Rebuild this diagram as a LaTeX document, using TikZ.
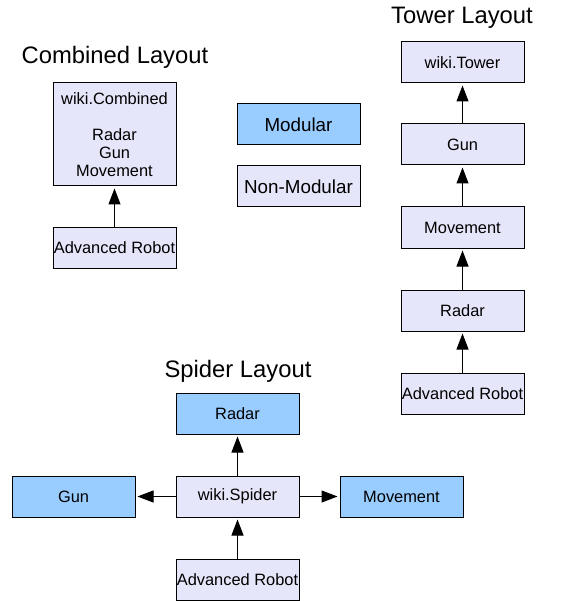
\documentclass[tikz,border=0pt]{standalone}
\usepackage{fontspec}
\setmainfont{Liberation Sans}
\usetikzlibrary{arrows.meta}
\definecolor{modblue}{HTML}{99CCFF}
\definecolor{nonmod}{HTML}{E6E6FA}
\begin{document}
\begin{tikzpicture}[x=1pt,y=-1pt,
  box/.style={draw=black, line width=1pt, minimum width=123pt, minimum height=41pt, inner sep=0pt,
    font=\fontsize{16.4}{18}\selectfont, align=center},
  modbox/.style={box, fill=modblue},
  nonbox/.style={box, fill=nonmod},
  legfont/.style={font=\fontsize{18.8}{21}\selectfont},
  title/.style={font=\fontsize{23.8}{26}\selectfont, inner sep=0pt},
  conn/.style={line width=1pt, -{Triangle[length=16pt,width=12pt]}, shorten >=2pt}]
\useasboundingbox (0,0) rectangle (565,601);
% titles
\node[title] (tc) at (115,57) {Combined Layout};
\node[title] (tt) at (462,18) {Tower Layout};
\node[title] (ts) at (238,371) {Spider Layout};
% legend
\node[modbox, legfont] (leg1) at (298.5,124.5) {Modular};
\node[nonbox, legfont] (leg2) at (298.5,186.5) {Non-Modular};
% combined
\node[nonbox, minimum height=103pt] (comb) at (114.5,134.5) {wiki.Combined\\[18pt]Radar\\Gun\\Movement};
\node[nonbox] (car) at (114.5,248) {Advanced Robot};
\draw[conn] (car) -- (comb);
% tower
\node[nonbox] (twt) at (462.5,62.5) {wiki.Tower};
\node[nonbox] (tgun) at (462.5,144.5) {Gun};
\node[nonbox] (tmov) at (462.5,227.5) {Movement};
\node[nonbox] (trad) at (462.5,310.5) {Radar};
\node[nonbox] (tar) at (462.5,393.5) {Advanced Robot};
\draw[conn] (tar) -- (trad);
\draw[conn] (trad) -- (tmov);
\draw[conn] (tmov) -- (tgun);
\draw[conn] (tgun) -- (twt);
% spider
\node[modbox] (srad) at (237.5,413.5) {Radar};
\node[modbox] (sgun) at (73.5,496.5) {Gun};
\node[nonbox] (ssp) at (237.5,496.5) {wiki.Spider};
\node[modbox] (smov) at (401.5,496.5) {Movement};
\node[nonbox] (sar) at (237.5,579.5) {Advanced Robot};
\draw[conn] (sar) -- (ssp);
\draw[conn] (ssp) -- (srad);
\draw[conn] (ssp) -- (sgun);
\draw[conn] (ssp) -- (smov);
\end{tikzpicture}
\end{document}
